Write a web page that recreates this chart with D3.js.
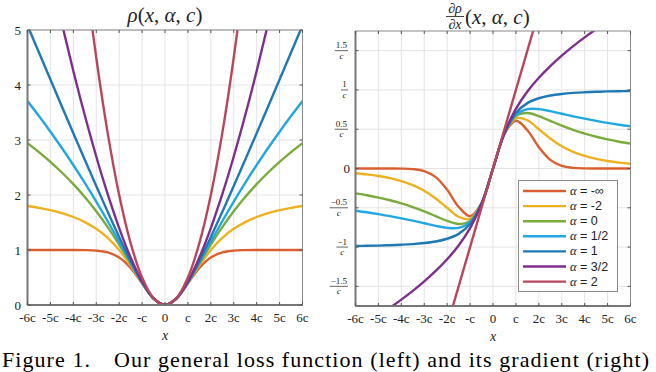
<!DOCTYPE html>
<html>
<head>
<meta charset="utf-8">
<script src="https://cdn.jsdelivr.net/npm/d3@7"></script>
<style>
  body { margin: 0; background: #fff; }
  svg { display: block; }
  .grid line { stroke: #e3e3e3; stroke-width: 1; }
  .tick-lbl { font-family: "Liberation Serif", "Times New Roman", Times, serif; fill: #222; }
  .sans { font-family: "Liberation Sans", Arial, Helvetica, sans-serif; }
</style>
</head>
<body>
<svg width="656" height="372"></svg>
<script>
// sample positions (in units of c)
var xs = [-6,-5.5,-5,-4.5,-4,-3.5,-3,-2.5,-2,-1.5,-1,-0.5,0,0.5,1,1.5,2,2.5,3,3.5,4,4.5,5,5.5,6];

var alphaLabels = ["-\u221e", "-2", "0", "1/2", "1", "3/2", "2"];
var colors = ["#d95f30", "#edb120", "#7aab3c", "#22a8e0", "#2079b4", "#7e2f8e", "#b9475c"];

// loss rho(x, alpha, c)
var rhoNegInf = [1.000,1.000,1.000,1.000,1.000,0.998,0.989,0.956,0.865,0.675,0.394,0.118,0,0.118,0.394,0.675,0.865,0.956,0.989,0.998,1.000,1.000,1.000,1.000,1.000];
var rhoNeg2   = [1.800,1.766,1.724,1.670,1.600,1.508,1.385,1.220,1.000,0.720,0.400,0.118,0,0.118,0.400,0.720,1.000,1.220,1.385,1.508,1.600,1.670,1.724,1.766,1.800];
var rho0      = [2.944,2.780,2.603,2.409,2.197,1.964,1.705,1.417,1.099,0.754,0.405,0.118,0,0.118,0.405,0.754,1.099,1.417,1.705,1.964,2.197,2.409,2.603,2.780,2.944];
var rhoHalf   = [3.708,3.435,3.151,2.854,2.545,2.220,1.880,1.523,1.151,0.772,0.409,0.118,0,0.118,0.409,0.772,1.151,1.523,1.880,2.220,2.545,2.854,3.151,3.435,3.708];
var rho1      = [5.083,4.590,4.099,3.610,3.123,2.640,2.162,1.693,1.236,0.803,0.414,0.118,0,0.118,0.414,0.803,1.236,1.693,2.162,2.640,3.123,3.610,4.099,4.590,5.083];
var rho32     = [7.990,6.987,6.028,5.117,4.256,3.449,2.700,2.014,1.399,0.864,0.427,0.119,0,0.119,0.427,0.864,1.399,2.014,2.700,3.449,4.256,5.117,6.028,6.987,7.990];
var rho2      = [18,15.125,12.5,10.125,8,6.125,4.5,3.125,2,1.125,0.5,0.125,0,0.125,0.5,1.125,2,3.125,4.5,6.125,8,10.125,12.5,15.125,18];

// gradient d rho / dx
var dNegInf = [0,0,0,0,-0.001,-0.008,-0.033,-0.110,-0.271,-0.487,-0.607,-0.441,0,0.441,0.607,0.487,0.271,0.110,0.033,0.008,0.001,0,0,0,0];
var dNeg2   = [-0.060,-0.075,-0.095,-0.122,-0.160,-0.212,-0.284,-0.381,-0.500,-0.614,-0.640,-0.443,0,0.443,0.640,0.614,0.500,0.381,0.284,0.212,0.160,0.122,0.095,0.075,0.060];
var d0      = [-0.316,-0.341,-0.370,-0.404,-0.444,-0.491,-0.545,-0.606,-0.667,-0.706,-0.667,-0.444,0,0.444,0.667,0.706,0.667,0.606,0.545,0.491,0.444,0.404,0.370,0.341,0.316];
var dHalf   = [-0.537,-0.557,-0.580,-0.606,-0.634,-0.664,-0.697,-0.730,-0.755,-0.755,-0.682,-0.445,0,0.445,0.682,0.755,0.755,0.730,0.697,0.664,0.634,0.606,0.580,0.557,0.537];
var d1      = [-0.986,-0.984,-0.981,-0.976,-0.970,-0.962,-0.949,-0.929,-0.894,-0.832,-0.707,-0.447,0,0.447,0.707,0.832,0.894,0.929,0.949,0.962,0.970,0.976,0.981,0.984,0.986];
var d32     = [-2.053,-1.964,-1.871,-1.773,-1.669,-1.558,-1.437,-1.304,-1.155,-0.980,-0.760,-0.452,0,0.452,0.760,0.980,1.155,1.304,1.437,1.558,1.669,1.773,1.871,1.964,2.053];
var d2      = [-6,-5.5,-5,-4.5,-4,-3.5,-3,-2.5,-2,-1.5,-1,-0.5,0,0.5,1,1.5,2,2.5,3,3.5,4,4.5,5,5.5,6];

var rhoSeries = [rhoNegInf, rhoNeg2, rho0, rhoHalf, rho1, rho32, rho2];
var gradSeries = [dNegInf, dNeg2, d0, dHalf, d1, d32, d2];

var xTicks = [-6,-5,-4,-3,-2,-1,0,1,2,3,4,5,6];
var xTickLabels = ["-6c","-5c","-4c","-3c","-2c","-c","0","c","2c","3c","4c","5c","6c"];
var rhoTicks = [0,1,2,3,4,5];
var gradTicks = [-1.5,-1,-0.5,0,0.5,1,1.5];
var gradTickNums = ["\u22121.5","\u22121","\u22120.5","0","0.5","1","1.5"];

var svg = d3.select("svg");

function panel(id, x0, x1, y0, y1, yDomain, yTicks, series) {
  var x = d3.scaleLinear().domain([-6, 6]).range([x0, x1]);
  var y = d3.scaleLinear().domain(yDomain).range([y1, y0]);
  var g = svg.append("g");

  g.append("clipPath").attr("id", id)
    .append("rect").attr("x", x0).attr("y", y0).attr("width", x1 - x0).attr("height", y1 - y0);

  // grid
  var grid = g.append("g").attr("class", "grid");
  grid.selectAll(".gx").data(xTicks).enter().append("line")
      .attr("x1", x).attr("x2", x).attr("y1", y0).attr("y2", y1);
  grid.selectAll(".gy").data(yTicks).enter().append("line")
      .attr("x1", x0).attr("x2", x1).attr("y1", y).attr("y2", y);

  // curves
  var line = d3.line()
      .x(function(d, i) { return x(xs[i]); })
      .y(function(d) { return y(d); })
      .curve(d3.curveCatmullRom);

  g.append("g").attr("clip-path", "url(#" + id + ")")
    .selectAll("path").data(series).enter().append("path")
      .attr("fill", "none")
      .attr("stroke", function(d, i) { return colors[i]; })
      .attr("stroke-width", 2.4)
      .attr("d", line);

  // frame + inward ticks
  g.append("rect").attr("x", x0).attr("y", y0).attr("width", x1 - x0).attr("height", y1 - y0)
      .attr("fill", "none").attr("stroke", "#8a8a8a").attr("stroke-width", 1);
  g.append("line").attr("x1", x0).attr("x2", x0).attr("y1", y0).attr("y2", y1)
      .attr("stroke", "#777").attr("stroke-width", 2);
  g.append("line").attr("x1", x0).attr("x2", x1).attr("y1", y1).attr("y2", y1)
      .attr("stroke", "#777").attr("stroke-width", 2);

  var tk = g.append("g").attr("stroke", "#555").attr("stroke-width", 1);
  xTicks.forEach(function(t) {
    tk.append("line").attr("x1", x(t)).attr("x2", x(t)).attr("y1", y1).attr("y2", y1 - 3);
    tk.append("line").attr("x1", x(t)).attr("x2", x(t)).attr("y1", y0).attr("y2", y0 + 3);
  });
  yTicks.forEach(function(t) {
    tk.append("line").attr("x1", x0).attr("x2", x0 + 3).attr("y1", y(t)).attr("y2", y(t));
    tk.append("line").attr("x1", x1).attr("x2", x1 - 3).attr("y1", y(t)).attr("y2", y(t));
  });

  g.selectAll(".xl").data(xTicks).enter().append("text")
      .attr("class", "tick-lbl")
      .attr("x", x).attr("y", y1 + 17)
      .attr("text-anchor", "middle")
      .style("font-size", "13px")
      .text(function(d, i) { return xTickLabels[i]; });

  g.append("text").attr("class", "tick-lbl")
      .attr("x", (x0 + x1) / 2).attr("y", y1 + 35)
      .attr("text-anchor", "middle")
      .style("font-size", "14px").style("font-style", "italic")
      .text("x");

  return { g: g, x: x, y: y };
}

// left: the loss
var L = panel("clipL", 27.5, 302.5, 30, 305, [0, 5], rhoTicks, rhoSeries);
L.g.selectAll(".yl").data(rhoTicks).enter().append("text")
    .attr("class", "tick-lbl")
    .attr("x", 21).attr("y", function(d) { return L.y(d) + 4.5; })
    .attr("text-anchor", "end")
    .style("font-size", "13px")
    .text(function(d) { return d; });

var t1 = svg.append("text").attr("class", "tick-lbl")
    .attr("x", 165).attr("y", 22).attr("text-anchor", "middle")
    .style("font-size", "21px");
t1.append("tspan").style("font-style", "italic").text("\u03c1");
t1.append("tspan").text("(");
t1.append("tspan").style("font-style", "italic").text("x");
t1.append("tspan").text(", ");
t1.append("tspan").style("font-style", "italic").text("\u03b1");
t1.append("tspan").text(", ");
t1.append("tspan").style("font-style", "italic").text("c");
t1.append("tspan").text(")");

// right: the gradient
var R = panel("clipR", 355.5, 630.5, 31, 306, [-1.75, 1.75], gradTicks, gradSeries);
gradTicks.forEach(function(t, i) {
  var ty = R.y(t);
  if (t === 0) {
    R.g.append("text").attr("class", "tick-lbl")
        .attr("x", 350).attr("y", ty + 4.5).attr("text-anchor", "end")
        .style("font-size", "13px").text("0");
    return;
  }
  var num = R.g.append("text").attr("class", "tick-lbl")
      .attr("x", 0).attr("y", ty - 2.5).attr("text-anchor", "middle")
      .style("font-size", "9px").text(gradTickNums[i]);
  var w = Math.max(num.node().getComputedTextLength(), 5) + 2;
  var cx = 348 - w / 2;
  num.attr("x", cx);
  R.g.append("line").attr("x1", cx - w / 2).attr("x2", cx + w / 2)
      .attr("y1", ty).attr("y2", ty).attr("stroke", "#222").attr("stroke-width", 0.7);
  R.g.append("text").attr("class", "tick-lbl")
      .attr("x", cx).attr("y", ty + 8).attr("text-anchor", "middle")
      .style("font-size", "9px").style("font-style", "italic").text("c");
});

var tt = svg.append("g").attr("class", "tick-lbl");
tt.append("text").attr("x", 455).attr("y", 13).attr("text-anchor", "middle")
    .style("font-size", "14px").style("font-style", "italic").text("\u2202\u03c1");
tt.append("line").attr("x1", 446).attr("x2", 464).attr("y1", 16.5).attr("y2", 16.5)
    .attr("stroke", "#111").attr("stroke-width", 0.8);
tt.append("text").attr("x", 455).attr("y", 28.5).attr("text-anchor", "middle")
    .style("font-size", "14px").style("font-style", "italic").text("\u2202x");
var t2 = tt.append("text").attr("x", 465).attr("y", 24).style("font-size", "21px");
t2.append("tspan").text("(");
t2.append("tspan").style("font-style", "italic").text("x");
t2.append("tspan").text(", ");
t2.append("tspan").style("font-style", "italic").text("\u03b1");
t2.append("tspan").text(", ");
t2.append("tspan").style("font-style", "italic").text("c");
t2.append("tspan").text(")");

// legend
var lg = svg.append("g");
lg.append("rect").attr("x", 518.5).attr("y", 180.5).attr("width", 99).attr("height", 111)
    .attr("fill", "#fff").attr("stroke", "#8a8a8a").attr("stroke-width", 1);
alphaLabels.forEach(function(lab, i) {
  var ly = 191 + i * 15.1;
  lg.append("line").attr("x1", 523).attr("x2", 566).attr("y1", ly).attr("y2", ly)
      .attr("stroke", colors[i]).attr("stroke-width", 2.4);
  var tx = lg.append("text").attr("class", "sans").attr("x", 570).attr("y", ly + 4)
      .style("font-size", "12.5px").attr("fill", "#222");
  tx.append("tspan").attr("class", "tick-lbl").style("font-style", "italic").text("\u03b1");
  tx.append("tspan").text(" = " + lab);
});

// caption
svg.append("text").attr("class", "tick-lbl")
    .attr("x", 2).attr("y", 366.5)
    .attr("textLength", 647).attr("lengthAdjust", "spacing")
    .style("font-size", "22px").style("fill", "#000")
    .text("Figure 1.\u2003Our general loss function (left) and its gradient (right)");
</script>
</body>
</html>
